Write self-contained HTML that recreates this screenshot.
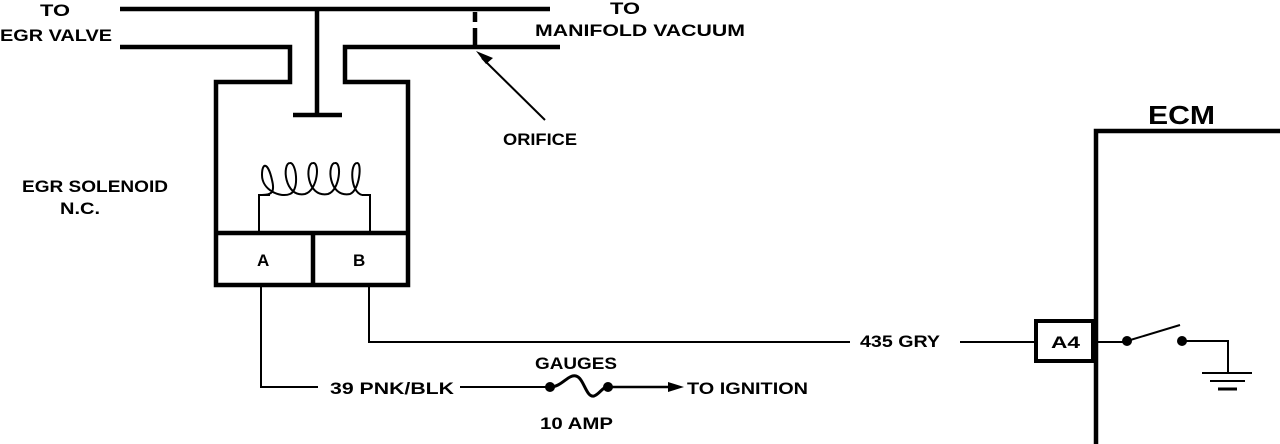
<!DOCTYPE html>
<html><head><style>
html,body{margin:0;padding:0;background:#fff;}
svg{display:block;}
text{font-family:"Liberation Sans",sans-serif;font-weight:bold;fill:#000;}
</style></head><body>
<svg width="1280" height="444" viewBox="0 0 1280 444" xmlns="http://www.w3.org/2000/svg">
<g fill="none" stroke="#000" stroke-width="4.5">
<line x1="120" y1="9" x2="550" y2="9"/>
<polyline points="120,47 290,47 290,82 216,82 216,285 408,285 408,82 345,82 345,47 560,47"/>
<line x1="317" y1="9" x2="317" y2="115"/>
<line x1="293" y1="115" x2="342" y2="115"/>
<line x1="216" y1="233" x2="408" y2="233"/>
<line x1="313" y1="233" x2="313" y2="285"/>
<line x1="475" y1="12" x2="475" y2="22"/>
<line x1="475" y1="28" x2="475" y2="47"/>
<polyline points="1096,444 1096,131 1280,131"/>
<rect x="1036" y="321" width="57" height="40" stroke-width="4"/>
</g>
<g fill="none" stroke="#000" stroke-width="2">
<path d="M259,233 V195 H270 M362,195 H370 V233"/>
<path d="M262,195 C272,195 275,192 272,180 C268,162 262,162 262,175 C262,190 280,198 290,194 C300,190 296,162 290,163 C282,163 284,198 305,194 C318,190 320,162 313,163 C305,163 306,198 328,194 C340,190 342,162 335,163 C327,163 328,198 350,194 C360,190 362,162 357,163 C350,163 350,192 362,195"/>
<polyline points="261,287 261,387 318,387"/>
<polyline points="369,287 369,342 850,342"/>
<line x1="460" y1="387" x2="548" y2="387"/>
<path d="M550,387 C562,387 568,374 576,376 C584,378 586,398 594,396 C600,394 602,387 608,387" stroke-width="3"/>
<line x1="608" y1="387" x2="672" y2="387" stroke-width="2.5"/>
<line x1="960" y1="342" x2="1036" y2="342"/>
<line x1="1093" y1="342" x2="1127" y2="342"/>
<line x1="1127" y1="341" x2="1180" y2="325"/>
<polyline points="1182,341 1228,341 1228,373"/>
<line x1="482" y1="58" x2="545" y2="120"/>
<line x1="1202" y1="373" x2="1252" y2="373"/>
<line x1="1210" y1="381" x2="1245" y2="381"/>
<line x1="1218" y1="389" x2="1237" y2="389" stroke-width="3"/>
</g>
<polygon points="476,51 493,58 486,64" fill="#000"/>
<polygon points="684,387 668,382 668,392" fill="#000"/>
<circle cx="550" cy="387" r="5" fill="#000"/>
<circle cx="608" cy="387" r="5" fill="#000"/>
<circle cx="1127" cy="341" r="5" fill="#000"/>
<circle cx="1182" cy="341" r="5" fill="#000"/>
<g font-size="17">
<text x="40" y="16" textLength="30" lengthAdjust="spacingAndGlyphs">TO</text>
<text x="0" y="41" textLength="112" lengthAdjust="spacingAndGlyphs">EGR VALVE</text>
<text x="610" y="14" textLength="30" lengthAdjust="spacingAndGlyphs">TO</text>
<text x="535" y="36" textLength="210" lengthAdjust="spacingAndGlyphs">MANIFOLD VACUUM</text>
<text x="503" y="145" textLength="74" lengthAdjust="spacingAndGlyphs">ORIFICE</text>
<text x="22" y="192" textLength="146" lengthAdjust="spacingAndGlyphs">EGR SOLENOID</text>
<text x="60" y="214" textLength="40" lengthAdjust="spacingAndGlyphs">N.C.</text>
<text x="257" y="266">A</text>
<text x="353" y="266">B</text>
<text x="330" y="394" textLength="124" lengthAdjust="spacingAndGlyphs">39 PNK/BLK</text>
<text x="535" y="369" textLength="82" lengthAdjust="spacingAndGlyphs">GAUGES</text>
<text x="540" y="429" textLength="73" lengthAdjust="spacingAndGlyphs">10 AMP</text>
<text x="687" y="394" textLength="121" lengthAdjust="spacingAndGlyphs">TO IGNITION</text>
<text x="860" y="347" textLength="80" lengthAdjust="spacingAndGlyphs">435 GRY</text>
<text x="1051" y="348" textLength="29" lengthAdjust="spacingAndGlyphs">A4</text>
</g>
<text x="1148" y="124" font-size="26" textLength="67" lengthAdjust="spacingAndGlyphs">ECM</text>
</svg>
</body></html>
